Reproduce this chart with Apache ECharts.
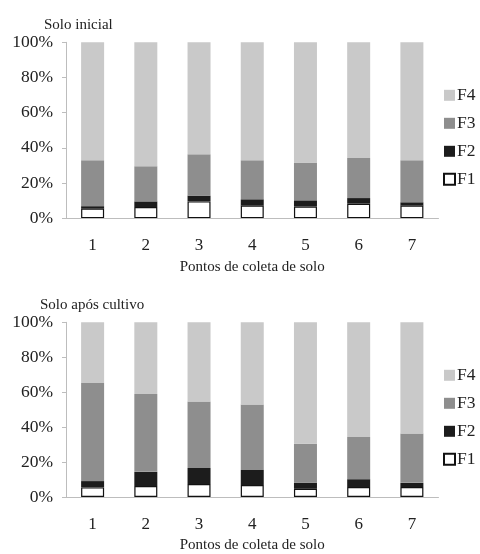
<!DOCTYPE html>
<html>
<head>
<meta charset="utf-8">
<script src="https://cdn.jsdelivr.net/npm/echarts@6/dist/echarts.min.js"></script>
<style>html,body{margin:0;padding:0;background:#fff}#c{width:480px;height:554px}</style>
</head>
<body>
<div id="c"></div>
<script>
const categories = ['1','2','3','4','5','6','7'];
const seriesNames = ['F1','F2','F3','F4'];
const legendOrder = ['F4','F3','F2','F1'];
const yTicks = [0,20,40,60,80,100];
const titles = ['Solo inicial','Solo após cultivo'];
const xName = 'Pontos de coleta de solo';

// Solo inicial (% per fraction)
const initF1 = [5.4, 6.3, 9.5, 7.1, 6.5, 8.2, 7.1];
const initF2 = [1.4, 3.2, 3.3, 3.6, 3.6, 3.2, 1.9];
const initF3 = [26.1, 20.0, 23.5, 22.2, 21.5, 22.8, 23.9];
const initF4 = [67.1, 70.5, 63.7, 67.1, 68.4, 65.8, 67.1];

// Solo após cultivo
const postF1 = [5.5, 6.3, 7.4, 6.8, 4.7, 5.7, 5.7];
const postF2 = [3.6, 8.1, 9.2, 8.7, 3.4, 4.5, 2.4];
const postF3 = [56.2, 44.5, 38.1, 37.5, 22.4, 24.2, 28.3];
const postF4 = [34.7, 41.1, 45.3, 47.0, 69.5, 65.6, 63.6];

const font = 'Liberation Serif, Times New Roman, serif';
const colors = {F1:'#ffffff', F2:'#1c1c1c', F3:'#8e8e8e', F4:'#c9c9c9'};
const panels = [[initF1,initF2,initF3,initF4],[postF1,postF2,postF3,postF4]];
const gridTops = [42.3, 322.3];
const gridH = 175.8;

const chart = echarts.init(document.getElementById('c'), null, {renderer:'canvas'});
const grid = [], xAxis = [], yAxis = [], series = [], legend = [], title = [];
gridTops.forEach((t, i) => {
  grid.push({left: 66, right: 41.5, top: t, height: gridH});
  xAxis.push({
    type:'category', gridIndex:i, data:categories,
    axisLine:{lineStyle:{color:'#bdbdbd', width:1}}, axisTick:{show:false},
    axisLabel:{color:'#222', fontFamily:font, fontSize:17, margin:19},
    name:xName, nameLocation:'middle', nameGap:41,
    nameTextStyle:{color:'#222', fontFamily:font, fontSize:15}
  });
  yAxis.push({
    type:'value', gridIndex:i, min:yTicks[0], max:yTicks[yTicks.length-1], interval:20,
    axisLine:{show:true, lineStyle:{color:'#bdbdbd', width:1}},
    axisTick:{show:true, length:4, lineStyle:{color:'#bdbdbd'}},
    splitLine:{show:false},
    axisLabel:{color:'#222', fontFamily:font, fontSize:17.5, margin:13, formatter:'{value}%'}
  });
  seriesNames.forEach((n, k) => {
    series.push({
      name:n, type:'bar', stack:'s'+i, xAxisIndex:i, yAxisIndex:i,
      data:panels[i][k], barWidth:23,
      itemStyle:{color:colors[n], borderColor: n==='F1' ? '#111' : colors[n], borderWidth: n==='F1' ? 1.2 : 0},
      emphasis:{disabled:true}
    });
  });
  legend.push({
    data:legendOrder, orient:'vertical', left:438, top: t + 39,
    icon:'rect', itemWidth:11, itemHeight:11, itemGap:10,
    textStyle:{color:'#222', fontFamily:font, fontSize:17.5, lineHeight:16, padding:[0,0,0,-3]},
    selectedMode:false
  });
  title.push({
    text:titles[i], left: i===0 ? 39 : 35, top: t - 30,
    textStyle:{color:'#222', fontFamily:font, fontSize:15, fontWeight:'normal'}
  });
});
chart.setOption({animation:false, title, grid, xAxis, yAxis, series, legend});
</script>
</body>
</html>
